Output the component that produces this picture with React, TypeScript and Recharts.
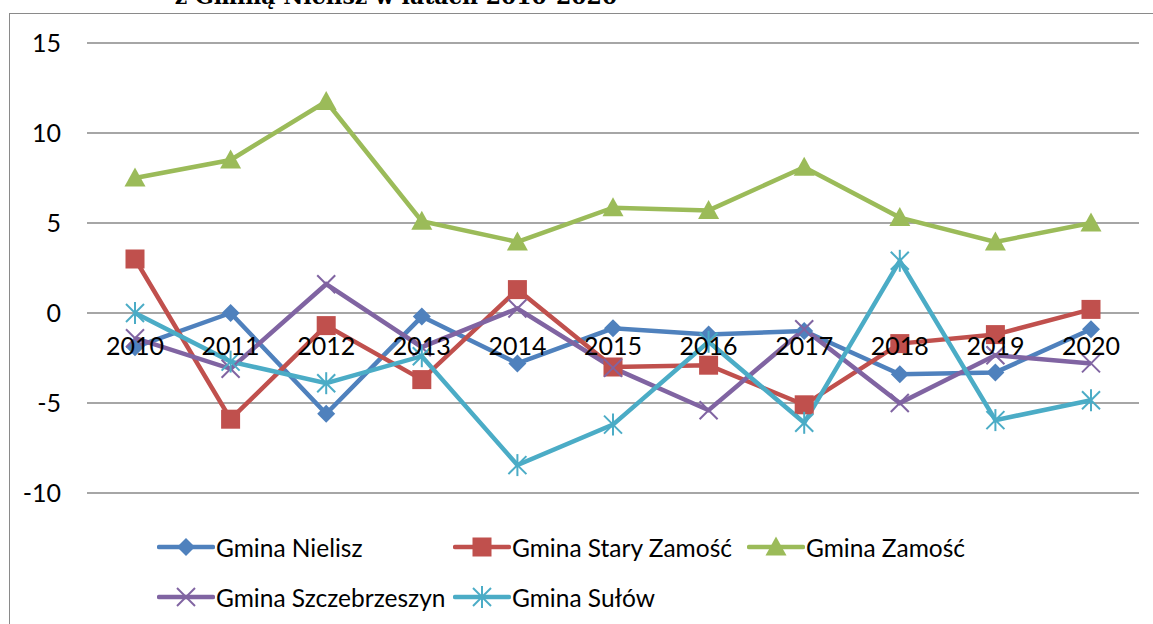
import React from 'react';
import { LineChart, Line, XAxis, YAxis, CartesianGrid } from 'recharts';

const years = ['2010', '2011', '2012', '2013', '2014', '2015', '2016', '2017', '2018', '2019', '2020'];

const nielisz = [-1.9, 0.0, -5.6, -0.2, -2.8, -0.85, -1.2, -1.0, -3.4, -3.3, -0.9];
const staryZamosc = [3.0, -5.9, -0.7, -3.7, 1.3, -3.0, -2.9, -5.1, -1.7, -1.2, 0.2];
const zamosc = [7.5, 8.5, 11.75, 5.1, 3.95, 5.85, 5.7, 8.1, 5.3, 3.95, 5.0];
const szczebrzeszyn = [-1.4, -3.1, 1.6, -1.9, 0.25, -3.05, -5.4, -0.9, -5.0, -2.35, -2.8];
const sulow = [0.0, -2.7, -3.9, -2.4, -8.45, -6.2, -1.6, -6.1, 2.9, -5.95, -4.85];

const yTicks = [-10, -5, 0, 5, 10, 15];

const seriesNames = ['Gmina Nielisz', 'Gmina Stary Zamość', 'Gmina Zamość', 'Gmina Szczebrzeszyn', 'Gmina Sułów'];

const data = years.map((year, i) => ({
  year,
  nielisz: nielisz[i],
  staryZamosc: staryZamosc[i],
  zamosc: zamosc[i],
  szczebrzeszyn: szczebrzeszyn[i],
  sulow: sulow[i],
}));

const COLORS = {
  nielisz: '#4F81BD',
  staryZamosc: '#C0504D',
  zamosc: '#9BBB59',
  szczebrzeszyn: '#8064A2',
  sulow: '#4BACC6',
};

type ShapeKind = 'diamond' | 'square' | 'triangle' | 'x' | 'star';

const Marker = ({ cx, cy, kind, color }: { cx: number; cy: number; kind: ShapeKind; color: string }) => {
  if (cx == null || cy == null) return null;
  switch (kind) {
    case 'diamond':
      return <polygon points={`${cx},${cy - 9} ${cx + 9},${cy} ${cx},${cy + 9} ${cx - 9},${cy}`} fill={color} />;
    case 'square':
      return <rect x={cx - 9.5} y={cy - 9.5} width={19} height={19} fill={color} />;
    case 'triangle':
      return <polygon points={`${cx},${cy - 10.5} ${cx + 10.5},${cy + 8.5} ${cx - 10.5},${cy + 8.5}`} fill={color} />;
    case 'x':
      return (
        <g stroke={color} strokeWidth={2}>
          <line x1={cx - 9} y1={cy - 9} x2={cx + 9} y2={cy + 9} />
          <line x1={cx - 9} y1={cy + 9} x2={cx + 9} y2={cy - 9} />
        </g>
      );
    case 'star':
      return (
        <g stroke={color} strokeWidth={2}>
          <line x1={cx - 9} y1={cy - 9} x2={cx + 9} y2={cy + 9} />
          <line x1={cx - 9} y1={cy + 9} x2={cx + 9} y2={cy - 9} />
          <line x1={cx} y1={cy - 11} x2={cx} y2={cy + 11} />
        </g>
      );
  }
  return null;
};

const dotFor = (kind: ShapeKind, color: string) => (props: any) => (
  <Marker key={props.key ?? `${kind}-${props.index}`} cx={props.cx} cy={props.cy} kind={kind} color={color} />
);

// plot spans -10..15 over 450px, so 0 sits 180px above the bottom edge
const ZERO_OFFSET = 180;

const YearTick = (props: any) => {
  const { x, y, payload } = props;
  return (
    <text x={x} y={y - ZERO_OFFSET + 42} textAnchor="middle" fill="#000" fontSize={25} fontFamily="Lato, sans-serif">
      {payload.value}
    </text>
  );
};

const legendItems: { key: keyof typeof COLORS; kind: ShapeKind; left: number; top: number }[] = [
  { key: 'nielisz', kind: 'diamond', left: 157, top: 547 },
  { key: 'staryZamosc', kind: 'square', left: 453, top: 547 },
  { key: 'zamosc', kind: 'triangle', left: 747, top: 547 },
  { key: 'szczebrzeszyn', kind: 'x', left: 157, top: 597 },
  { key: 'sulow', kind: 'star', left: 453, top: 597 },
];

export default function App() {
  return (
    <div style={{ position: 'fixed', left: 0, top: 0, width: 1153, height: 624, overflow: 'hidden', background: '#fff' }}>
      <div
        style={{
          position: 'absolute',
          left: 0,
          width: 792,
          top: -18,
          textAlign: 'center',
          fontFamily: '"DejaVu Serif", serif',
          fontWeight: 'bold',
          fontSize: 22,
          lineHeight: '28px',
          color: '#000',
        }}
      >
        z Gminą Nielisz w latach 2010-2020
      </div>
      <div
        style={{
          position: 'absolute',
          left: 9,
          top: 13,
          width: 1200,
          height: 700,
          border: '1.5px solid #8a8a8a',
          background: '#fff',
        }}
      />
      <div style={{ position: 'absolute', left: 0, top: 0 }}>
        <LineChart width={1139} height={624} data={data} margin={{ top: 43, right: 0, left: 0, bottom: 130 }}>
          <CartesianGrid horizontal vertical={false} stroke="#888" strokeWidth={1.5} />
          <XAxis
            dataKey="year"
            axisLine={false}
            tickLine={false}
            tickSize={0}
            tickMargin={0}
            height={1}
            interval={0}
            padding={{ left: 48, right: 48 }}
            tick={<YearTick />}
          />
          <YAxis
            type="number"
            domain={[-10, 15]}
            ticks={yTicks}
            width={87}
            axisLine={false}
            tickLine={false}
            tickSize={0}
            tickMargin={26}
            interval={0}
            tick={{ fill: '#000', fontSize: 25, fontFamily: 'Lato, sans-serif' }}
          />
          <Line dataKey="nielisz" name={seriesNames[0]} stroke={COLORS.nielisz} strokeWidth={4.5} dot={dotFor('diamond', COLORS.nielisz)} activeDot={false} isAnimationActive={false} />
          <Line dataKey="staryZamosc" name={seriesNames[1]} stroke={COLORS.staryZamosc} strokeWidth={4.5} dot={dotFor('square', COLORS.staryZamosc)} activeDot={false} isAnimationActive={false} />
          <Line dataKey="zamosc" name={seriesNames[2]} stroke={COLORS.zamosc} strokeWidth={4.5} dot={dotFor('triangle', COLORS.zamosc)} activeDot={false} isAnimationActive={false} />
          <Line dataKey="szczebrzeszyn" name={seriesNames[3]} stroke={COLORS.szczebrzeszyn} strokeWidth={4.5} dot={dotFor('x', COLORS.szczebrzeszyn)} activeDot={false} isAnimationActive={false} />
          <Line dataKey="sulow" name={seriesNames[4]} stroke={COLORS.sulow} strokeWidth={4.5} dot={dotFor('star', COLORS.sulow)} activeDot={false} isAnimationActive={false} />
        </LineChart>
      </div>
      {legendItems.map((item, i) => (
        <div
          key={item.key}
          style={{ position: 'absolute', left: item.left, top: item.top - 15, height: 30, display: 'flex', alignItems: 'center' }}
        >
          <svg width={58} height={30}>
            <line x1={2} y1={15} x2={56} y2={15} stroke={COLORS[item.key]} strokeWidth={4.5} strokeLinecap="round" />
            <Marker cx={29} cy={15} kind={item.kind} color={COLORS[item.key]} />
          </svg>
          <span style={{ fontFamily: 'Lato, sans-serif', fontSize: 24.5, color: '#000', marginLeft: 1, whiteSpace: 'nowrap' }}>
            {seriesNames[i]}
          </span>
        </div>
      ))}
    </div>
  );
}
